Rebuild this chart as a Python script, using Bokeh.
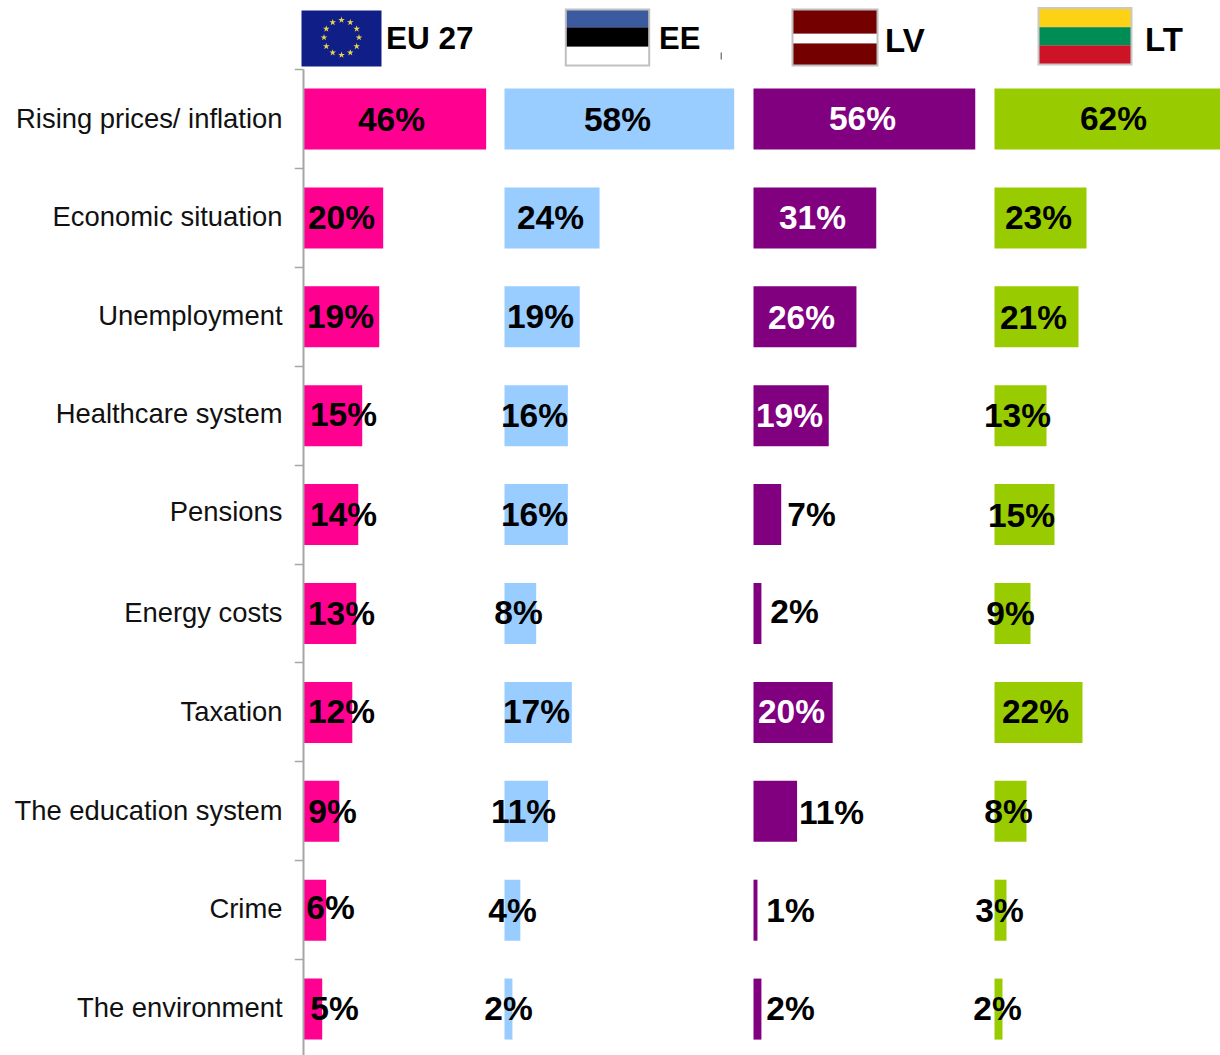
from bokeh.plotting import figure
from bokeh.models import Range1d, FixedTicker, ColumnDataSource, LinearAxis
from bokeh.core.properties import value
from bokeh.embed import file_html
from bokeh.resources import INLINE

categories = ["Rising prices/ inflation", "Economic situation", "Unemployment", "Healthcare system",
              "Pensions", "Energy costs", "Taxation", "The education system", "Crime", "The environment"]
countries = ["EU 27", "EE", "LV", "LT"]

eu_values = [46, 20, 19, 14.7, 13.7, 13.2, 12.2, 8.9, 5.6, 4.6]
ee_values = [58, 24, 19, 16, 16, 8, 17, 11, 4, 2]
lv_values = [56, 31, 26, 19, 7, 2, 20, 11, 1, 2]
lt_values = [62, 23, 21, 13, 15, 9, 22, 8, 3, 2]

eu_labels = ["46%", "20%", "19%", "15%", "14%", "13%", "12%", "9%", "6%", "5%"]
ee_labels = ["58%", "24%", "19%", "16%", "16%", "8%", "17%", "11%", "4%", "2%"]
lv_labels = ["56%", "31%", "26%", "19%", "7%", "2%", "20%", "11%", "1%", "2%"]
lt_labels = ["62%", "23%", "21%", "13%", "15%", "9%", "22%", "8%", "3%", "2%"]

colors = ["#FF0090", "#99CCFF", "#800080", "#99CC00"]
label_colors = [["black"] * 10, ["black"] * 10,
                ["white", "white", "white", "white", "black", "black", "white", "black", "black", "black"],
                ["black"] * 10]

# layout (screen pixels of the page)
LEFT, RIGHT, TOP, BOTTOM = 294, 1220, 0, 1055
AXIS_X = 303
ROW0, ROW_STEP = 118.5, 98.9
origins = [303.5, 504, 753, 994]
scales = [3.96, 3.96, 3.96, 4.0]
label_x = [[391, 341, 340, 343, 343, 341, 341, 332, 330, 334],
           [617, 550, 540, 534, 534, 518, 536, 523, 512, 508],
           [862, 812, 801, 789, 811, 794, 791, 831, 790, 790],
           [1113, 1038, 1033, 1017, 1021, 1010, 1035, 1008, 999, 997]]
label_dy = [[0, 0, 0, -1, 0, 0, -1, 0, -3, -1],
            [0, 0, 0, 0, 0, -1, -1, 0, 0, -1],
            [-1, 0, 1, 0, 0, -2, -1, 1, 0, -1],
            [-1, 0, 1, 0, 1, 0, -1, 0, 0, -1]]
tick_label_dy = [-1, -1, -1, -2, -3, -1, -1, -1, -2, -2]

rows = list(range(len(categories)))
W, H = RIGHT, BOTTOM

p = figure(width=W, height=H, output_backend="svg", toolbar_location=None,
           x_range=Range1d(LEFT, RIGHT),
           y_range=Range1d((BOTTOM - ROW0) / ROW_STEP, (TOP - ROW0) / ROW_STEP),
           x_axis_location=None, min_border_left=LEFT, min_border_right=0,
           min_border_top=0, min_border_bottom=0, outline_line_color=None,
           background_fill_color="white", border_fill_color="white")
p.grid.visible = False
p.extra_y_ranges = {"screen": Range1d(BOTTOM, TOP)}

all_values = [eu_values, ee_values, lv_values, lt_values]
all_labels = [eu_labels, ee_labels, lv_labels, lt_labels]
for i, name in enumerate(countries):
    rn = f"c{i}"
    p.extra_x_ranges[rn] = Range1d((LEFT - origins[i]) / scales[i], (RIGHT - origins[i]) / scales[i])
    p.hbar(y=rows, left=0, right=all_values[i], height=0.617, color=colors[i], line_color=None, x_range_name=rn)

for i, name in enumerate(countries):
    src = ColumnDataSource(dict(x=label_x[i], y=rows, t=all_labels[i], c=label_colors[i], dy=label_dy[i]))
    p.text(x="x", y="y", text="t", source=src, text_color="c", y_offset="dy",
           text_font=value("Liberation Sans"), text_font_style="bold", text_font_size="33.5px",
           text_align="center", text_baseline="middle")

# category labels on the frame's own axis
ax = p.yaxis[0]
tick_pos = [r + d / ROW_STEP for r, d in zip(rows, tick_label_dy)]
ax.ticker = FixedTicker(ticks=tick_pos, minor_ticks=[])
ax.major_label_overrides = {t: c for t, c in zip(tick_pos, categories)}
ax.major_label_text_font = "Liberation Sans"
ax.major_label_text_font_size = "27.4px"
ax.major_label_text_color = "#111111"
ax.major_label_standoff = LEFT - 282
ax.major_tick_line_color = None
ax.major_tick_in = 0
ax.major_tick_out = 0
ax.minor_tick_line_color = None
ax.axis_line_color = None

# the axis line and its ticks between the categories
line_ax = LinearAxis(fixed_location=AXIS_X, ticker=FixedTicker(ticks=[], minor_ticks=[r - 0.5 for r in rows]),
                     bounds=(-0.5, 9.6), major_label_text_font_size="0px", major_tick_line_color=None,
                     major_tick_in=0, major_tick_out=0, minor_tick_in=0, minor_tick_out=9,
                     minor_tick_line_color="#A6A6A6", minor_tick_line_width=1.5,
                     axis_line_color="#A6A6A6", axis_line_width=2)
p.add_layout(line_ax, "left")


def flag(x0, x1, y0, y1, stripes, border=None):
    if border:
        p.quad(left=[x0], right=[x1], top=[y0], bottom=[y1], fill_color=border, line_color=None, y_range_name="screen")
        x0, x1, y0, y1 = x0 + 2, x1 - 2, y0 + 2, y1 - 2
    for (a, b, c) in stripes:
        p.quad(left=[x0], right=[x1], top=[y0 + (y1 - y0) * a], bottom=[y0 + (y1 - y0) * b],
               fill_color=c, line_color=None, y_range_name="screen")


# EU flag
flag(301, 381, 10, 66, [(0, 1, "#0F1F87")])
star_x = [341, 349.8, 356.2, 358.5, 356.2, 349.8, 341, 332.2, 325.8, 323.5, 325.8, 332.2]
star_y = [19.5, 21.9, 28.3, 37, 45.8, 52.2, 54.5, 52.2, 45.8, 37, 28.3, 21.9]
p.scatter(star_x, star_y, marker="star", size=7, fill_color="#E8D44D", line_color=None, y_range_name="screen")
flag(564.3, 649.7, 8, 66, [(0, 0.315, "#3C5AA0"), (0.315, 0.67, "black"), (0.67, 1, "white")], border="#C0C0C0")
flag(791, 878, 8, 66, [(0, 0.43, "#750000"), (0.43, 0.61, "white"), (0.61, 1, "#750000")], border="#C0C0C0")
flag(1037, 1132, 6.5, 65, [(0, 0.335, "#FDD116"), (0.335, 0.67, "#008C55"), (0.67, 1, "#CC1426")], border="#C8C8C8")
p.segment([720.7], [52], [720.7], [59], line_color="#444444", line_width=1, y_range_name="screen")

header_x = [385.5, 658.5, 884.5, 1144.5]
header_y = [37, 38, 40, 39]
header_size = ["31.5px", "31px", "33px", "33px"]
p.text(x=header_x, y=header_y, text=countries, text_font_size=header_size, y_range_name="screen",
       text_font=value("Liberation Sans"), text_font_style="bold",
       text_color="black", text_align="left", text_baseline="middle")

open("out.html", "w").write(file_html(p, INLINE))
